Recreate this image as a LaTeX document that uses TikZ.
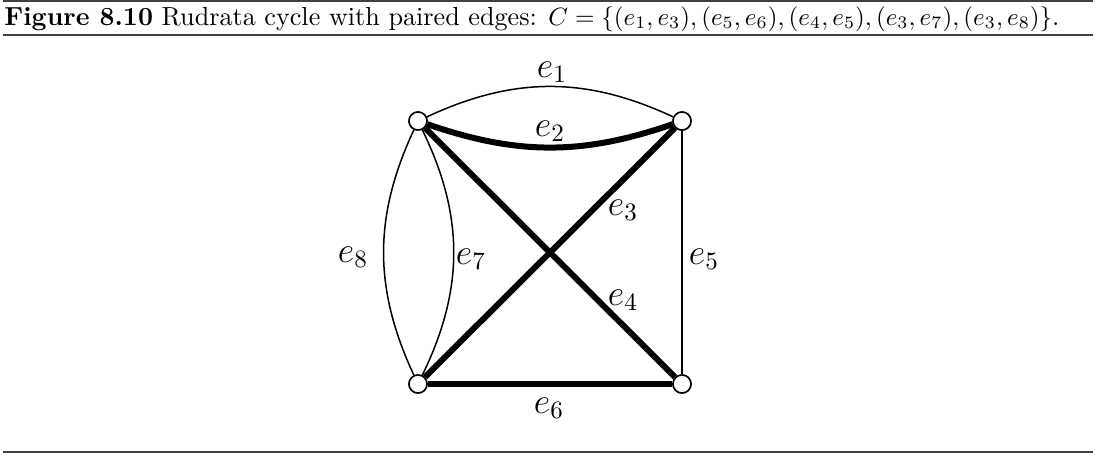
\documentclass[tikz,border=0pt]{standalone}
\begin{document}
\begin{tikzpicture}[x=0.4pt,y=-0.4pt,
  vtx/.style={circle,draw,fill=white,line width=0.6pt,minimum size=7.2pt,inner sep=0pt},
  thinedge/.style={line width=0.6pt},
  thickedge/.style={line width=2.4pt},
  elabel/.style={font=\fontsize{14}{16}\selectfont,inner sep=0pt},
  rulestyle/.style={line width=0.6pt,black!75}]
\useasboundingbox (0,0) rectangle (1107,456);
% rules
\coordinate (r1a) at (3,1); \coordinate (r1b) at (1093,1);
\coordinate (r2a) at (3,35); \coordinate (r2b) at (1093,35);
\coordinate (r3a) at (3,452); \coordinate (r3b) at (1093,452);
\draw[rulestyle] (r1a) -- (r1b);
\draw[rulestyle] (r2a) -- (r2b);
\draw[rulestyle] (r3a) -- (r3b);
\node[anchor=base west,inner sep=0pt,font=\fontsize{10.45}{12}\selectfont] (cap) at (4,25)
  {\textbf{Figure 8.10} Rudrata cycle with paired edges: $C=\{(e_1,e_3),(e_5,e_6),(e_4,e_5),(e_3,e_7),(e_3,e_8)\}$.};
% vertices
\coordinate (ptl) at (418,121);
\coordinate (ptr) at (682,121);
\coordinate (pbl) at (418,384);
\coordinate (pbr) at (682,384);
\node[vtx] (tl) at (ptl) {};
\node[vtx] (tr) at (ptr) {};
\node[vtx] (bl) at (pbl) {};
\node[vtx] (br) at (pbr) {};
% edges
\draw[thinedge] (tl) to[bend left=25] (tr);
\draw[thickedge] (tl) to[bend right=19] (tr);
\draw[thickedge] (bl) -- (tr);
\draw[thickedge] (tl) -- (br);
\draw[thickedge] (bl) -- (br);
\draw[thinedge] (tr) -- (br);
\draw[thinedge] (tl) to[bend left=26] (bl);
\draw[thinedge] (tl) to[bend right=25] (bl);
% redraw vertices on top
\node[vtx] (tl2) at (ptl) {};
\node[vtx] (tr2) at (ptr) {};
\node[vtx] (bl2) at (pbl) {};
\node[vtx] (br2) at (pbr) {};
% labels
\node[elabel] (l1) at (552,72) {$e_1$};
\node[elabel] (l2) at (550,131) {$e_2$};
\node[elabel] (l3) at (623,210) {$e_3$};
\node[elabel] (l4) at (623,300) {$e_4$};
\node[elabel] (l5) at (704,259) {$e_5$};
\node[elabel] (l6) at (549,408) {$e_6$};
\node[elabel] (l7) at (471,259) {$e_7$};
\node[elabel] (l8) at (353,257) {$e_8$};
\end{tikzpicture}
\end{document}
